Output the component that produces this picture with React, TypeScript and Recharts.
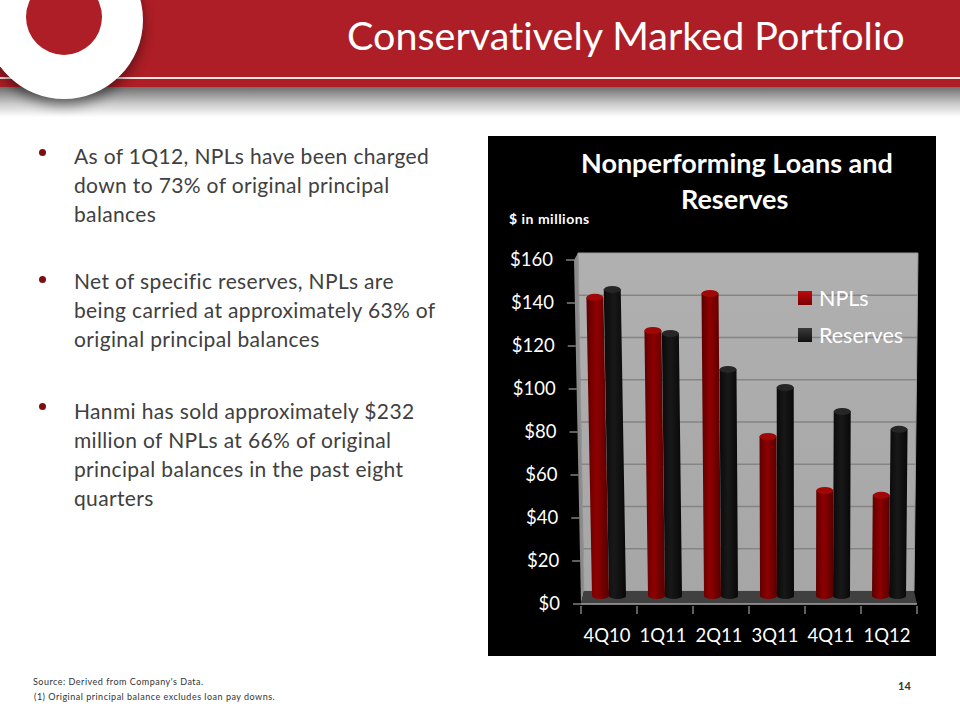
import {
  BarChart,
  Bar,
  XAxis,
  YAxis,
  CartesianGrid,
  Legend,
} from 'recharts';

const quarters = ['4Q10', '1Q11', '2Q11', '3Q11', '4Q11', '1Q12'];
const npls = [140.3, 124.9, 142.1, 75.6, 50.5, 48.2];
const reserves = [144, 123.5, 106.8, 98.4, 87.2, 78.9];
const yTicks = [0, 20, 40, 60, 80, 100, 120, 140, 160];
const wallTicks = [20, 40, 60, 80, 100, 120, 140];
const firstBullets = [
  'As of 1Q12, NPLs have been charged',
  'down to 73% of original principal',
  'balances',
];
const secondBullets = [
  'Net of specific reserves, NPLs are',
  'being carried at approximately 63% of',
  'original principal balances',
];
const thirdBullets = [
  'Hanmi has sold approximately $232',
  'million of NPLs at 66% of original',
  'principal balances in the past eight',
  'quarters',
];

const data = quarters.map((quarter, i) => ({
  quarter,
  npls: npls[i],
  reserves: reserves[i],
}));

const FONT = 'Lato, sans-serif';
const CHART_W = 448;
const CHART_H = 520;
const PLOT_LEFT = 93;
const PLOT_W = 336;
const BAND = PLOT_W / quarters.length;
const LIFT = 5; // bars stand in the middle of the floor, not on its front edge

// the chart has a slight perspective, everything leans towards this x
const VANISH_X = 312;

const CylinderBar = (props: any) => {
  const { x, y, width, height, capFill, bodyFill } = props;
  const cx = x + width / 2;
  const lean = ((VANISH_X - cx) * 0.0000931) * height;
  const base = y + height - LIFT - 3;
  const top = y - LIFT;
  const tl = x - lean;
  const body = `M${x},${base} L${tl},${top} L${tl + width},${top} L${x + width},${base} A${width / 2},3 0 0 1 ${x},${base} Z`;
  return (
    <g>
      <path d={body} fill={bodyFill} />
      <ellipse cx={tl + width / 2} cy={top} rx={width / 2} ry={3.5} fill={capFill} />
    </g>
  );
};

const YTick = ({ x, y, payload }: any) => {
  const shift = (payload.value / 160) * 7;
  return (
    <g>
      <line x1={x - 8 - shift} x2={x - shift} y1={y} y2={y} stroke="#bfbfbf" strokeWidth={1} />
      <text
        x={x - 21 - shift}
        y={y + 6}
        textAnchor="end"
        fill="#fff"
        fontFamily={FONT}
        fontSize={18.5}
      >
        {`$${payload.value}`}
      </text>
    </g>
  );
};

const XTick = ({ x, y, payload, index }: any) => {
  const last = index === quarters.length - 1;
  return (
    <g>
      <line x1={x - BAND / 2} x2={x - BAND / 2} y1={y} y2={y + 8} stroke="#bfbfbf" />
      {last && <line x1={x + BAND / 2} x2={x + BAND / 2} y1={y} y2={y + 8} stroke="#bfbfbf" />}
      <text
        x={x - 2}
        y={y + 36}
        textAnchor="middle"
        fill="#fff"
        fontFamily={FONT}
        fontSize={18.5}
      >
        {payload.value}
      </text>
    </g>
  );
};

// gridlines sit on the back wall, which is a bit smaller than the front axis
const wallCoordinates = ({ offset }: any) =>
  wallTicks.map((v) => offset.top + offset.height * (1 - (v + 6.15) / 162.85));

const WallLine = ({ x1, x2, y1 }: any) => {
  // wall tapers a little from top to bottom
  const t = (455 - y1) / 338;
  return (
    <line
      key={y1}
      x1={x1 + 3 - 6 * t}
      x2={x2 - 3 + 4 * t}
      y1={y1}
      y2={y1}
      stroke="#858585"
      strokeWidth={1.5}
    />
  );
};

const swatches: Record<string, [string, string]> = {
  npls: ['#c00a0a', '#7a0000'],
  reserves: ['#3a3a3a', '#111111'],
};

const LegendBox = ({ payload }: any) => (
  <div>
    {(payload || []).map((item: any) => (
      <div
        key={item.value}
        style={{
          display: 'flex',
          alignItems: 'center',
          height: 37,
          color: '#fff',
          fontFamily: FONT,
          fontSize: 21.5,
        }}
      >
        <span
          style={{
            width: 14,
            height: 14,
            marginRight: 7,
            background: `linear-gradient(${swatches[item.dataKey][0]}, ${swatches[item.dataKey][1]})`,
          }}
        />
        {item.value}
      </div>
    ))}
  </div>
);

const TextLine = ({ x, y, size, children, style }: any) => (
  <div
    style={{
      position: 'absolute',
      left: x,
      top: y,
      fontSize: size,
      lineHeight: 1,
      whiteSpace: 'nowrap',
      fontFamily: FONT,
      fontVariantLigatures: 'none',
      ...style,
    }}
  >
    {children}
  </div>
);

const Bullet = ({ y }: { y: number }) => (
  <div
    style={{
      position: 'absolute',
      left: 39,
      top: y - 3.5,
      width: 7,
      height: 7,
      borderRadius: '50%',
      background: '#7b0f14',
    }}
  />
);

const bodyStyle = { color: '#404040', letterSpacing: 0.35 };

const App = () => (
  <div
    style={{
      position: 'absolute',
      left: 0,
      top: 0,
      width: 960,
      height: 720,
      overflow: 'hidden',
      background: '#fff',
    }}
  >
    {/* header band */}
    <div
      style={{
        position: 'absolute',
        left: 0,
        top: 87,
        width: 960,
        height: 30,
        background: 'linear-gradient(#6f6f6f, #c9c9c9 55%, #ffffff)',
      }}
    />
    <div
      style={{
        position: 'absolute',
        left: 0,
        top: 0,
        width: 960,
        height: 87,
        background: '#ad1e26',
      }}
    />
    <div
      style={{
        position: 'absolute',
        left: 0,
        top: 77,
        width: 960,
        height: 2,
        background: '#fbe4e4',
      }}
    />
    <div
      style={{
        position: 'absolute',
        left: -15,
        top: -59,
        width: 158,
        height: 158,
        borderRadius: '50%',
        background: '#fff',
        boxShadow: '0 6px 12px rgba(0,0,0,0.45)',
      }}
    />
    <div
      style={{
        position: 'absolute',
        left: 26,
        top: -21,
        width: 76,
        height: 76,
        borderRadius: '50%',
        background: '#ad1e26',
      }}
    />
    <TextLine x={347} y={15} size={39.5} style={{ color: '#fff' }}>
      Conservatively Marked Portfolio
    </TextLine>

    {/* left column */}
    <Bullet y={152} />
    {firstBullets.map((line, i) => (
      <TextLine key={line} x={74} y={145 + i * 29} size={21} style={bodyStyle}>
        {line}
      </TextLine>
    ))}
    <Bullet y={279} />
    {secondBullets.map((line, i) => (
      <TextLine key={line} x={74} y={270 + i * 29} size={21} style={bodyStyle}>
        {line}
      </TextLine>
    ))}
    <Bullet y={406} />
    {thirdBullets.map((line, i) => (
      <TextLine key={line} x={74} y={400 + i * 29} size={21} style={bodyStyle}>
        {line}
      </TextLine>
    ))}

    {/* chart panel */}
    <div
      style={{
        position: 'absolute',
        left: 488,
        top: 136,
        width: CHART_W,
        height: CHART_H,
        background: '#000',
      }}
    >
      <svg
        width={CHART_W}
        height={CHART_H}
        style={{ position: 'absolute', left: 0, top: 0 }}
      >
        <defs>
          <linearGradient id="wallFill" x1="0" y1="0" x2="0" y2="1">
            <stop offset="0%" stopColor="#b0b0b0" />
            <stop offset="100%" stopColor="#a6a6a6" />
          </linearGradient>
        </defs>
        <polygon points="86,124 90,117 96,455 93,468" fill="#8a8a8a" />
        <polygon points="90,117 430,117 426,455 96,455" fill="url(#wallFill)" stroke="#9a9a9a" />
        <polygon points="96,455 426,455 429,468 93,468" fill="#404040" />
      </svg>
      <div style={{ position: 'absolute', left: 0, top: 0 }}>
        <BarChart
          width={CHART_W}
          height={CHART_H}
          data={data}
          margin={{ top: 124, right: 19, bottom: 0, left: 0 }}
          barSize={17}
          barGap={0}
        >
          <defs>
            <linearGradient id="nplBody" x1="0" y1="0" x2="1" y2="0">
              <stop offset="0%" stopColor="#5e0000" />
              <stop offset="45%" stopColor="#8f0000" />
              <stop offset="100%" stopColor="#560000" />
            </linearGradient>
            <linearGradient id="reserveBody" x1="0" y1="0" x2="1" y2="0">
              <stop offset="0%" stopColor="#0a0a0a" />
              <stop offset="45%" stopColor="#181818" />
              <stop offset="100%" stopColor="#080808" />
            </linearGradient>
          </defs>
          <CartesianGrid
            vertical={false}
            horizontal={WallLine}
            horizontalCoordinatesGenerator={wallCoordinates}
          />
          <XAxis
            dataKey="quarter"
            height={52}
            tick={XTick}
            tickLine={false}
            tickSize={0}
            axisLine={{ stroke: '#a6a6a6', strokeWidth: 1.5 }}
          />
          <YAxis
            width={PLOT_LEFT}
            domain={[0, 160]}
            ticks={yTicks}
            tick={YTick}
            tickLine={false}
            tickSize={0}
            tickMargin={0}
            axisLine={false}
          />
          <Legend
            content={LegendBox}
            layout="vertical"
            align="center"
            verticalAlign="middle"
            wrapperStyle={{ left: 310, top: 143, width: 130 }}
          />
          <Bar
            dataKey="npls"
            name="NPLs"
            isAnimationActive={false}
            fill="#8b0000"
            shape={(p: any) => <CylinderBar {...p} bodyFill="url(#nplBody)" capFill="#a00808" />}
          />
          <Bar
            dataKey="reserves"
            name="Reserves"
            isAnimationActive={false}
            fill="#111111"
            shape={(p: any) => <CylinderBar {...p} bodyFill="url(#reserveBody)" capFill="#262626" />}
          />
        </BarChart>
      </div>
      <TextLine x={93} y={13} size={27} style={{ color: '#fff', fontWeight: 700 }}>
        Nonperforming Loans and
      </TextLine>
      <TextLine x={193} y={49} size={27} style={{ color: '#fff', fontWeight: 700 }}>
        Reserves
      </TextLine>
      <TextLine x={21} y={76} size={14} style={{ color: '#fff', fontWeight: 700, letterSpacing: 0.5 }}>
        $ in millions
      </TextLine>
    </div>

    {/* footer */}
    <TextLine x={33} y={677} size={9} style={{ color: '#333', letterSpacing: 0.5 }}>
      Source: Derived from Company's Data.
    </TextLine>
    <TextLine x={34} y={692} size={9} style={{ color: '#333', letterSpacing: 0.5 }}>
      (1) Original principal balance excludes loan pay downs.
    </TextLine>
    <TextLine x={898} y={680} size={11} style={{ color: '#333', fontWeight: 700 }}>
      14
    </TextLine>
  </div>
);

export default App;
